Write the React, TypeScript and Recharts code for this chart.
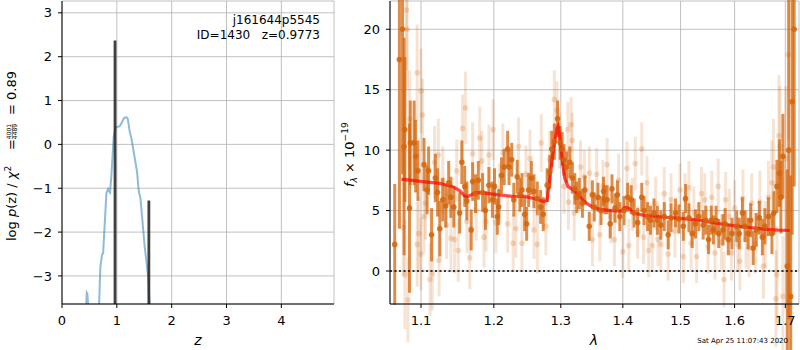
import React from "react";
import {
  LineChart,
  ComposedChart,
  Line,
  Scatter,
  ErrorBar,
  XAxis,
  YAxis,
  CartesianGrid,
  ReferenceLine,
} from "recharts";

const font = "DejaVu Sans";

// left panel: log p(z)
const zTicks = [0, 1, 2, 3, 4];
const logpTicks = [-3, -2, -1, 0, 1, 2, 3];
const zDomain = [0, 4.96];
const logpDomain = [-3.64, 3.27];
const pzZ = [0.4, 0.43, 0.452, 0.462, 0.49, 0.52, 0.6, 0.66, 0.675, 0.7, 0.73, 0.75, 0.81, 0.84, 0.857, 0.875, 0.9, 0.943, 0.974, 1.003, 1.05, 1.083, 1.13, 1.174, 1.2, 1.235, 1.266, 1.326, 1.368, 1.4, 1.43, 1.508, 1.57, 1.6, 1.65];
const pzLog = [-4.5, -3.9, -3.38, -3.4, -3.9, -4.5, -5, -4.5, -3.7, -2.78, -2.52, -2.48, -1.11, -1.02, -1.07, -1.1, -0.73, 0.18, 0.37, 0.4, 0.41, 0.48, 0.6, 0.62, 0.58, 0.29, 0.14, -0.31, -0.62, -1.07, -1.22, -2.33, -3.01, -3.7, -4.5];
const peakZ = [0.967, 1.584];
const peakTop = [2.37, -1.28];

// right panel: spectrum
const lamTicks = [1.1, 1.2, 1.3, 1.4, 1.5, 1.6, 1.7];
const fluxTicks = [0, 5, 10, 15, 20];
const lamDomain = [1.06, 1.728];
const fluxDomain = [-2.73, 22.34];

const darkLam = [1.066, 1.072, 1.076, 1.078, 1.079, 1.085, 1.086, 1.091, 1.093, 1.096, 1.104, 1.108, 1.11, 1.114, 1.119, 1.122, 1.125, 1.129, 1.133, 1.137, 1.14, 1.144, 1.152, 1.155, 1.159, 1.162, 1.168, 1.17, 1.174, 1.178, 1.184, 1.188, 1.193, 1.198, 1.201, 1.205, 1.207, 1.211, 1.215, 1.22, 1.222, 1.226, 1.229, 1.234, 1.238, 1.241, 1.245, 1.248, 1.251, 1.255, 1.259, 1.264, 1.269, 1.273, 1.279, 1.283, 1.286, 1.29, 1.295, 1.299, 1.302, 1.305, 1.309, 1.314, 1.318, 1.322, 1.325, 1.329, 1.334, 1.338, 1.345, 1.35, 1.353, 1.359, 1.364, 1.368, 1.37, 1.374, 1.379, 1.382, 1.387, 1.391, 1.395, 1.402, 1.408, 1.414, 1.419, 1.425, 1.432, 1.436, 1.442, 1.447, 1.453, 1.459, 1.465, 1.471, 1.478, 1.483, 1.491, 1.497, 1.505, 1.509, 1.515, 1.521, 1.527, 1.533, 1.541, 1.546, 1.551, 1.556, 1.56, 1.565, 1.57, 1.578, 1.582, 1.588, 1.595, 1.604, 1.609, 1.615, 1.62, 1.626, 1.631, 1.636, 1.642, 1.648, 1.654, 1.659, 1.666, 1.673, 1.677, 1.683, 1.688, 1.691, 1.695, 1.704, 1.707, 1.711, 1.714, 1.718];
const darkFlux = [2.2, 17.5, 20.0, 10.3, 11.7, 5.2, 10.6, 10.6, 9.5, 8.3, 8.8, 6.7, 8.3, 3.0, 7.7, 6.5, 3.5, 5.9, 5.4, 7.3, 6.1, 5.3, 4.8, 9.0, 7.0, 5.8, 3.4, 7.4, 6.4, 7.5, 6.5, 5.0, 7.1, 5.9, 7.0, 4.5, 5.3, 7.9, 8.6, 10.1, 8.6, 9.2, 5.9, 7.8, 6.3, 6.7, 4.7, 3.9, 6.7, 7.7, 6.6, 6.0, 5.3, 4.7, 7.1, 8.2, 10.1, 10.7, 12.6, 10.6, 10.1, 9.2, 8.6, 9.0, 7.7, 6.8, 6.1, 6.4, 5.6, 6.7, 3.7, 6.3, 5.3, 6.1, 5.0, 6.6, 5.9, 5.9, 3.9, 6.8, 5.2, 6.3, 4.5, 5.0, 6.1, 5.9, 4.8, 4.0, 6.1, 5.0, 4.5, 4.2, 4.8, 4.2, 3.8, 4.5, 3.0, 4.4, 4.8, 4.3, 3.7, 6.0, 4.4, 3.1, 3.9, 4.5, 3.8, 4.2, 2.6, 4.2, 3.4, 4.2, 3.1, 3.4, 3.9, 2.6, 3.1, 3.7, 3.1, 4.8, 3.7, 3.1, 4.2, 1.9, 3.4, 4.4, 2.8, 3.7, 4.5, 3.1, 4.8, 7.0, 8.1, 6.1, 9.5, 0.4, 10, -2.1, 14, 20];
const darkErr = [5, 14, 12, 9, 6, 7, 3.5, 3.5, 3, 2.5, 2.2, 2, 2, 2.2, 2, 2, 2.3, 1.8, 1.8, 1.8, 1.7, 1.7, 1.7, 1.8, 1.7, 1.6, 1.7, 1.6, 1.6, 1.6, 1.6, 1.6, 1.5, 1.5, 1.5, 1.5, 1.5, 1.5, 1.5, 1.5, 1.5, 1.4, 1.4, 1.4, 1.4, 1.4, 1.4, 1.4, 1.4, 1.4, 1.4, 1.4, 1.4, 1.4, 1.4, 1.4, 1.5, 1.5, 1.5, 1.4, 1.4, 1.3, 1.3, 1.3, 1.3, 1.3, 1.3, 1.3, 1.2, 1.2, 1.2, 1.2, 1.2, 1.2, 1.2, 1.2, 1.2, 1.2, 1.2, 1.2, 1.2, 1.2, 1.2, 1.2, 1.2, 1.2, 1.2, 1.2, 1.2, 1.2, 1.2, 1.2, 1.2, 1.2, 1.2, 1.2, 1.2, 1.2, 1.2, 1.2, 1.2, 1.2, 1.2, 1.2, 1.2, 1.2, 1.2, 1.2, 1.2, 1.2, 1.2, 1.2, 1.2, 1.3, 1.3, 1.3, 1.3, 1.3, 1.3, 1.3, 1.3, 1.3, 1.4, 1.4, 1.4, 1.4, 1.5, 1.5, 1.6, 1.7, 1.8, 2.2, 2.8, 3, 3.5, 8, 14, 10, 11, 13];

const lightLam = [1.077, 1.079, 1.081, 1.082, 1.083, 1.085, 1.095, 1.095, 1.097, 1.1, 1.1, 1.102, 1.104, 1.106, 1.112, 1.115, 1.118, 1.123, 1.124, 1.129, 1.134, 1.14, 1.145, 1.148, 1.15, 1.156, 1.16, 1.162, 1.166, 1.17, 1.175, 1.18, 1.183, 1.186, 1.189, 1.193, 1.199, 1.203, 1.208, 1.213, 1.22, 1.228, 1.232, 1.236, 1.241, 1.247, 1.253, 1.259, 1.264, 1.27, 1.277, 1.283, 1.29, 1.294, 1.298, 1.305, 1.311, 1.312, 1.316, 1.318, 1.321, 1.331, 1.337, 1.345, 1.35, 1.357, 1.362, 1.367, 1.374, 1.38, 1.386, 1.393, 1.4, 1.407, 1.41, 1.416, 1.421, 1.425, 1.432, 1.435, 1.441, 1.444, 1.45, 1.456, 1.46, 1.465, 1.471, 1.478, 1.483, 1.49, 1.499, 1.505, 1.508, 1.515, 1.519, 1.524, 1.529, 1.538, 1.544, 1.55, 1.557, 1.563, 1.569, 1.575, 1.58, 1.583, 1.59, 1.594, 1.6, 1.606, 1.61, 1.616, 1.622, 1.628, 1.633, 1.64, 1.649, 1.656, 1.66, 1.666, 1.673, 1.676, 1.681, 1.683, 1.687, 1.689, 1.695, 1.701, 1.706, 1.708];
const lightFlux = [3.6, -0.3, 21.6, 20.0, -2.4, 12.6, 16.4, 2.2, 3.1, 14.9, 1.4, 12.9, 4.5, 5.6, -0.7, -0.25, 9.0, 9.6, 0.9, 7.5, 3.8, 2.7, 2.6, 8.3, 1.7, 11.8, 13.5, 4.1, 1.1, 9.7, 5.0, 11.0, 9.1, 2.8, 4.1, 9.6, 11.7, 4.0, 6.5, 9.8, 3.9, 2.3, 3.5, 10.3, 2.3, 8.0, 9.3, 3.4, 2.2, 10.6, 3.7, 9.2, 14.2, 13.3, 10.8, 7.0, 11.7, 5.7, 12.1, 10.8, 4.8, 8.6, 7.8, 8.1, 2.6, 8.0, 3.0, 7.0, 8.8, 4.5, 2.6, 7.5, 1.6, 8.5, 2.1, 5.5, 8.9, 3.2, 10.1, 2.8, 7.3, 1.7, 2.1, 5.6, 2.6, 2.2, 6.4, 1.4, 5.9, 3.3, 6.7, 1.2, 5.9, 6.9, 2.3, 4.8, 1.2, 6.4, 5.9, 2.0, 6.1, 1.5, 7.0, 2.4, -0.7, 5.9, 4.5, 1.5, 5.2, 2.2, 0.8, 6.0, 2.6, 1.9, 5.6, 2.3, 5.7, 0.4, 3.0, 6.1, 7.3, 8.6, -2.3, -0.3, 11.2, 10.3, -2.1, 9.3, 17.9, -2.6];
const lightErr = [4, 4.5, 5, 5, 3.5, 4, 4, 3.5, 3, 3.5, 3, 3, 3, 3, 3, 3, 3, 3, 3, 2.8, 2.8, 2.8, 2.8, 2.6, 2.6, 2.8, 3, 2.6, 2.6, 2.6, 2.5, 2.6, 2.5, 2.5, 2.5, 2.5, 2.5, 2.5, 2.4, 2.4, 2.4, 2.4, 2.4, 2.4, 2.4, 2.4, 2.4, 2.4, 2.4, 2.4, 2.4, 2.4, 2.4, 2.4, 2.3, 2.3, 2.3, 2.3, 2.3, 2.3, 2.3, 2.2, 2.2, 2.2, 2.2, 2.2, 2.2, 2.2, 2.2, 2.2, 2.2, 2.2, 2.2, 2.2, 2.2, 2.2, 2.2, 2.2, 2.2, 2.2, 2.2, 2.2, 2.2, 2.2, 2.2, 2.2, 2.2, 2.2, 2.2, 2.2, 2.2, 2.2, 2.2, 2.2, 2.2, 2.2, 2.2, 2.2, 2.2, 2.2, 2.2, 2.2, 2.3, 2.3, 2.3, 2.3, 2.3, 2.3, 2.3, 2.3, 2.4, 2.4, 2.4, 2.4, 2.5, 2.5, 2.6, 2.7, 2.8, 3, 3.5, 4, 4, 4, 5, 5, 5, 6, 7, 6];

const modelLam = [1.0745, 1.102, 1.125, 1.142, 1.152, 1.159, 1.163, 1.168, 1.174, 1.188, 1.207, 1.229, 1.243, 1.259, 1.274, 1.279, 1.284, 1.289, 1.294, 1.296, 1.299, 1.303, 1.306, 1.311, 1.321, 1.328, 1.334, 1.342, 1.35, 1.362, 1.38, 1.397, 1.403, 1.41, 1.419, 1.436, 1.471, 1.5, 1.535, 1.566, 1.598, 1.63, 1.662, 1.686, 1.709];
const modelFlux = [7.6, 7.4, 7.25, 7.0, 6.65, 6.2, 6.15, 6.3, 6.5, 6.45, 6.3, 6.15, 6.2, 6.0, 5.75, 5.85, 8.1, 10.2, 11.8, 12.0, 10.8, 8.9, 7.7, 7.0, 6.65, 6.3, 5.9, 5.55, 5.3, 5.1, 5.0, 4.95, 5.25, 5.2, 4.8, 4.6, 4.45, 4.35, 4.2, 3.95, 3.75, 3.6, 3.45, 3.38, 3.35];

const pzData = pzZ.map((z, i) => ({ z, logp: pzLog[i] }));
const darkData = darkLam.map((lam, i) => ({ lam, flux: darkFlux[i], err: darkErr[i] }));
const lightData = lightLam.map((lam, i) => ({ lam, flux: lightFlux[i], err: lightErr[i] }));
const modelData = modelLam.map((lam, i) => ({ lam, flux: modelFlux[i] }));

const orange = "#d4650c";
const tickStyle = { fill: "#000", fontSize: 13, fontFamily: font };
const minus = (v: number) => String(v).replace("-", "\u2212");

const dot = (opacity: number) => (props: any) =>
  <circle cx={props.cx} cy={props.cy} r={2.8} fill={orange} fillOpacity={opacity} />;

export default function App() {
  return (
    <div style={{ position: "absolute", left: 0, top: 0, width: 800, height: 350, background: "#fff" }}>
      <div style={{ position: "absolute", left: 0, top: 0 }}>
        <LineChart width={340} height={350} data={pzData} margin={{ top: 1, right: 6, bottom: 16, left: 12 }}>
          <CartesianGrid stroke="#b0b0b0" strokeWidth={0.8} />
          <XAxis dataKey="z" type="number" domain={zDomain} ticks={zTicks} allowDataOverflow height={30}
            stroke="#000" tickSize={4} tickMargin={8} tick={tickStyle} />
          <XAxis xAxisId="top" orientation="top" type="number" domain={zDomain} allowDataOverflow
            height={0} tick={false} tickLine={false} stroke="#000" />
          <YAxis type="number" domain={logpDomain} ticks={logpTicks} allowDataOverflow width={50}
            stroke="#000" tickSize={4} tickMargin={6} tick={tickStyle} tickFormatter={minus} />
          <YAxis yAxisId="right" orientation="right" type="number" domain={logpDomain} allowDataOverflow
            width={0} tick={false} tickLine={false} stroke="#000" />
          <Line dataKey="logp" type="linear" stroke="#1f77b4" strokeOpacity={0.5} strokeWidth={2}
            dot={false} isAnimationActive={false} />
          {peakZ.map((z, i) => (
            <ReferenceLine key={i} ifOverflow="hidden"
              segment={[{ x: z, y: logpDomain[0] }, { x: z, y: peakTop[i] }]}
              stroke="#2b2b2b" strokeOpacity={0.9} strokeWidth={2.8} />
          ))}
        </LineChart>
      </div>

      <div style={{ position: "absolute", left: 340, top: 0 }}>
        <ComposedChart width={460} height={350} margin={{ top: 1, right: 1, bottom: 16, left: 10 }}>
          <CartesianGrid stroke="#b0b0b0" strokeWidth={0.8} />
          <XAxis dataKey="lam" type="number" scale="log" domain={lamDomain} ticks={lamTicks} allowDataOverflow
            height={30} stroke="#000" tickSize={4} tickMargin={8} tick={tickStyle} />
          <XAxis xAxisId="top" orientation="top" type="number" domain={lamDomain} allowDataOverflow
            height={0} tick={false} tickLine={false} stroke="#000" />
          <YAxis dataKey="flux" type="number" domain={fluxDomain} ticks={fluxTicks} allowDataOverflow width={40}
            stroke="#000" tickSize={4} tickMargin={6} tick={tickStyle} tickFormatter={minus} />
          <YAxis yAxisId="right" orientation="right" type="number" domain={fluxDomain} allowDataOverflow
            width={0} tick={false} tickLine={false} stroke="#000" />
          <Scatter data={lightData} dataKey="flux" shape={dot(0.22)} isAnimationActive={false}>
            <ErrorBar dataKey="err" direction="y" width={0} stroke={orange} strokeOpacity={0.18} strokeWidth={3} />
          </Scatter>
          <Scatter data={darkData} dataKey="flux" shape={dot(0.85)} isAnimationActive={false}>
            <ErrorBar dataKey="err" direction="y" width={0} stroke={orange} strokeOpacity={0.75} strokeWidth={3} />
          </Scatter>
          <Line data={modelData} dataKey="flux" type="linear" stroke="red" strokeOpacity={0.7} strokeWidth={3.2}
            dot={false} isAnimationActive={false} />
          <ReferenceLine y={0} stroke="#000" strokeWidth={1.6} strokeDasharray="2 2.5" />
        </ComposedChart>
      </div>

      <svg width={800} height={350} style={{ position: "absolute", left: 0, top: 0, pointerEvents: "none" }}
        fontFamily={font} fill="#000">
        <text x={320} y={23.5} fontSize={12} textAnchor="end">j161644p5545</text>
        <text x={320} y={38.5} fontSize={12} textAnchor="end" style={{ whiteSpace: "pre" }}>ID=1430   z=0.9773</text>

        <g transform="translate(16,241) rotate(-90)">
          <text x={0} y={0} fontSize={13}>
            log <tspan fontStyle="italic">p</tspan>(z) / <tspan fontStyle="italic">χ</tspan>
            <tspan dy={-5} fontSize={9}>2</tspan>
          </text>
          <text x={91} y={0} fontSize={13}>=</text>
          <text x={109.5} y={-4.6} fontSize={6} textAnchor="middle">4001</text>
          <line x1={102} x2={117} y1={-3.7} y2={-3.7} stroke="#000" strokeWidth={0.5} />
          <text x={109.5} y={1} fontSize={6} textAnchor="middle">4489</text>
          <text x={126} y={0} fontSize={13}>= 0.89</text>
        </g>

        <g transform="translate(354,187) rotate(-90)">
          <text x={0} y={0} fontSize={13}>
            <tspan fontStyle="italic">f</tspan>
            <tspan dy={3} fontSize={9} fontStyle="italic">λ</tspan>
            <tspan dy={-3}> × 10</tspan>
            <tspan dy={-6} fontSize={9}>−19</tspan>
          </text>
        </g>

        <text x={198} y={345} fontSize={14} fontStyle="italic" textAnchor="middle">z</text>
        <text x={594} y={345} fontSize={14} fontStyle="italic" textAnchor="middle">λ</text>
        <text x={788} y={342.5} fontSize={7} textAnchor="end">Sat Apr 25 11:07:43 2020</text>
      </svg>
    </div>
  );
}
